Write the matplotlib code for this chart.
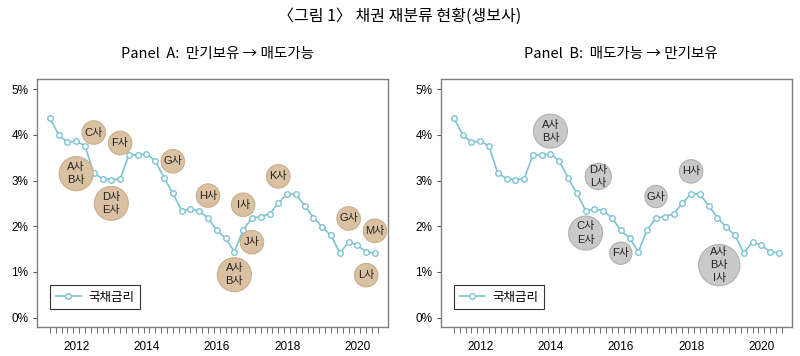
import numpy as np
import pandas as pd
import matplotlib
matplotlib.use("Agg")
import matplotlib.pyplot as plt

plt.rcParams['font.family'] = ['Noto Sans CJK KR', 'DejaVu Sans']
latin = ['Liberation Sans', 'Noto Sans CJK KR']

# quarterly treasury yield (%), 2011Q2 - 2020Q3
quarters = pd.period_range('2011Q2', '2020Q3', freq='Q')
rate = [4.37, 4.00, 3.84, 3.86, 3.76, 3.16, 3.04, 3.02, 3.03, 3.56,
        3.56, 3.58, 3.43, 3.06, 2.72, 2.34, 2.37, 2.34, 2.18, 1.91,
        1.74, 1.44, 1.92, 2.18, 2.21, 2.27, 2.50, 2.71, 2.70, 2.45,
        2.19, 1.98, 1.80, 1.41, 1.66, 1.58, 1.44, 1.41]

# Panel A: held-to-maturity -> available-for-sale
a_labels = ['A사\nB사', 'C사', 'D사\nE사', 'F사', 'G사', 'H사', 'A사\nB사',
            'I사', 'J사', 'K사', 'G사', 'L사', 'M사']
a_time = [2012.0, 2012.5, 2013.0, 2013.25, 2014.75, 2015.75, 2016.5,
          2016.75, 2017.0, 2017.75, 2019.75, 2020.25, 2020.5]
a_level = [3.15, 4.05, 2.50, 3.82, 3.42, 2.67, 0.94, 2.47, 1.65, 3.09,
           2.17, 0.93, 1.90]
a_amount = [2.1, 1.0, 2.1, 1.0, 1.0, 1.0, 2.1, 1.0, 1.0, 1.0, 1.0, 1.0, 1.0]

# Panel B: available-for-sale -> held-to-maturity
b_labels = ['A사\nB사', 'C사\nE사', 'D사\nL사', 'F사', 'G사', 'H사', 'A사\nB사\nI사']
b_time = [2014.0, 2015.0, 2015.36, 2016.0, 2017.0, 2018.0, 2018.8]
b_level = [4.08, 1.85, 3.09, 1.41, 2.65, 3.20, 1.15]
b_amount = [2.1, 2.1, 1.25, 0.9, 0.9, 1.0, 3.1]

years = [2012, 2014, 2016, 2018, 2020]
x = np.array([p.year + (p.quarter - 1) / 4 for p in quarters])

fig = plt.figure(figsize=(8, 3.56), dpi=100)
fig.text(0.5, 0.955, '〈그림 1〉 채권 재분류 현황(생보사)', ha='center', va='center',
         fontsize=11.5)

panels = [
    ([0.046, 0.082, 0.439, 0.696], 'Panel  A:  만기보유 → 매도가능',
     a_labels, a_time, a_level, a_amount, '#D9C1A1', '#C9AD8A'),
    ([0.551, 0.082, 0.439, 0.696], 'Panel  B:  매도가능 → 만기보유',
     b_labels, b_time, b_level, b_amount, '#C9C9C9', '#B0B0B0'),
]

for rect, title, labels, bt, bl, amt, fc, ec in panels:
    ax = fig.add_axes(rect)
    line, = ax.plot(x, rate, color='#7DC3D3', lw=1.2, marker='o', ms=4,
                    mfc='white', mec='#7DC3D3', mew=1, zorder=2, label='국채금리')
    ax.scatter(bt, bl, s=np.array(amt) * 285, c=fc, edgecolors=ec,
               linewidths=0.8, zorder=3)
    for lab, tx, ty in zip(labels, bt, bl):
        ax.text(tx, ty, lab, ha='center', va='center', fontsize=8,
                family=latin, linespacing=1.4, color='#222222', zorder=4)

    ax.set_xlim(2010.88, 2020.87)
    ax.set_ylim(-0.2, 5.22)
    ax.set_yticks([0, 1, 2, 3, 4, 5])
    ax.set_yticklabels([f'{v}%' for v in range(6)], fontsize=8.5, family=latin)
    ax.set_xticks(years)
    ax.set_xticklabels([str(y) for y in years], fontsize=8.5, family=latin)
    ax.set_xticks(np.arange(2011.25, 2020.6, 1 / 6), minor=True)
    ax.tick_params(axis='x', which='major', length=0, pad=10)
    ax.tick_params(axis='x', which='minor', length=4, color='#555555')
    ax.tick_params(axis='y', length=3, color='#555555', pad=3)
    for sp in ax.spines.values():
        sp.set_color('#7F7F7F')
        sp.set_linewidth(1)

    leg = ax.legend(handles=[line], loc='lower left',
                    bbox_to_anchor=(0.038, 0.07), borderaxespad=0,
                    fontsize=9, fancybox=False, framealpha=1,
                    handlelength=2.0, handletextpad=0.6, borderpad=0.45)
    leg.get_frame().set_edgecolor('#333333')
    leg.get_frame().set_linewidth(0.8)

    fig.text(rect[0] + rect[2] / 2 + 0.006, 0.848, title, ha='center',
             va='center', fontsize=10.5)

fig.savefig('out.png', dpi=100)
